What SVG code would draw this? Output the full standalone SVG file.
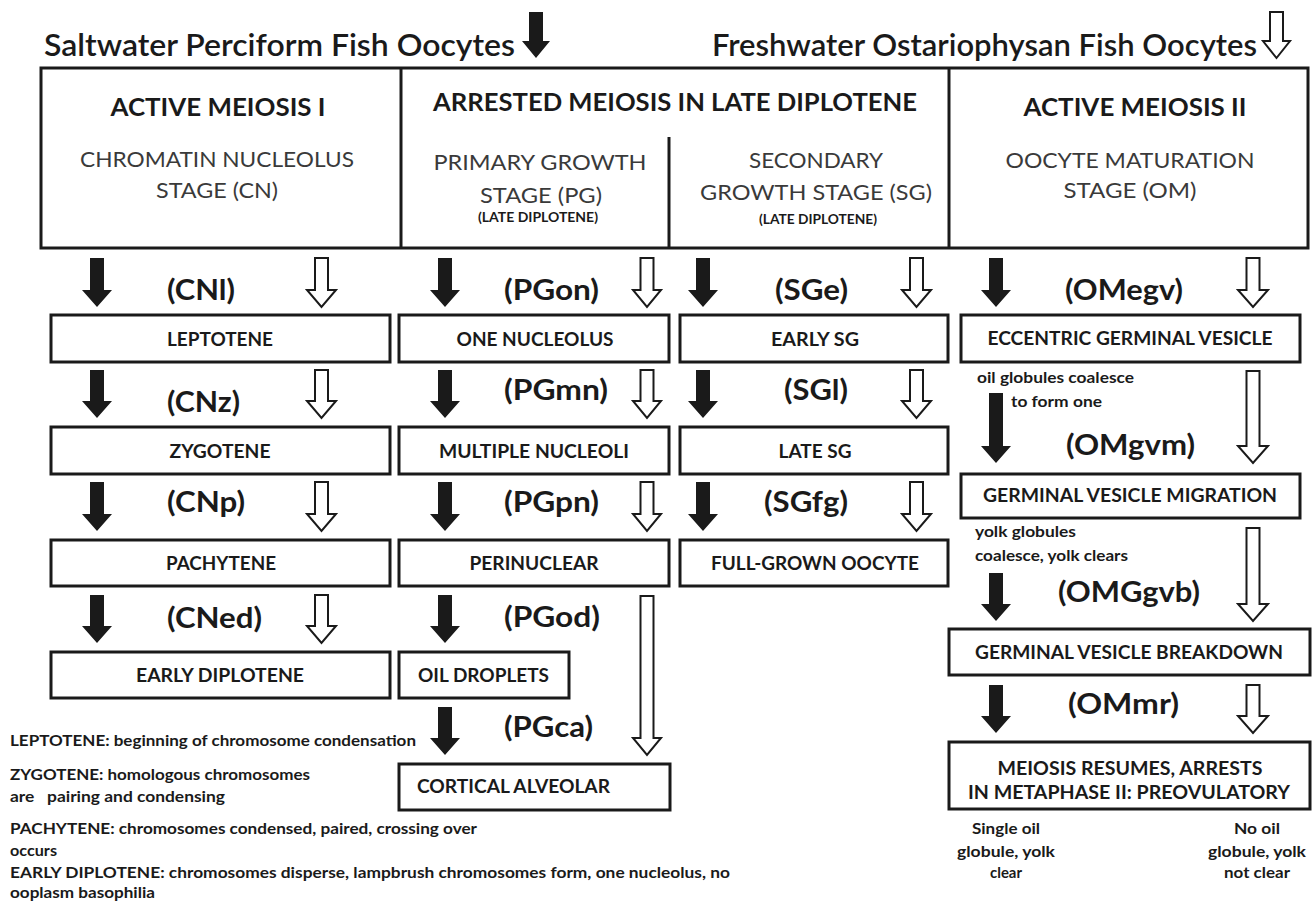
<svg xmlns="http://www.w3.org/2000/svg" width="1314" height="902" viewBox="0 0 1314 902">
<style>
text{font-family:Lato,"Open Sans","Liberation Sans",sans-serif;fill:#1a1a1a}
.title{font-size:31px;font-weight:600}
.head{font-size:24px;font-weight:700;text-anchor:middle}
.sub{font-size:22px;font-weight:400;text-anchor:middle;fill:#3a3a3a}
.tiny{font-size:13px;font-weight:700;text-anchor:middle}
.lbl{font-size:29px;font-weight:700}
.box{fill:#fff;stroke:#1a1a1a;stroke-width:3}
.bt{font-size:18px;font-weight:700;text-anchor:middle}
.bl{font-size:18px;font-weight:700}
.note{font-size:16px;font-weight:700}
.fn{font-size:16px;font-weight:700;white-space:pre}
.ar{fill:#1a1a1a;stroke:none}
.oa{fill:#fff;stroke:#1a1a1a;stroke-width:2;stroke-linejoin:miter}
</style>

<g id="titles">
<text class="title" x="44" y="56" textLength="471" lengthAdjust="spacingAndGlyphs">Saltwater Perciform Fish Oocytes</text>
<text class="title" x="712" y="56" textLength="545" lengthAdjust="spacingAndGlyphs">Freshwater Ostariophysan Fish Oocytes</text>
</g>

<g id="header">
<rect class="box" x="41" y="68" width="1267" height="180"/>
<line x1="401" y1="68" x2="401" y2="248" stroke="#1a1a1a" stroke-width="3"/>
<line x1="949" y1="68" x2="949" y2="248" stroke="#1a1a1a" stroke-width="3"/>
<line x1="669" y1="137" x2="669" y2="248" stroke="#1a1a1a" stroke-width="3"/>
</g>

<g id="col-CN-header">
<text class="head" x="218" y="116" textLength="215" lengthAdjust="spacingAndGlyphs">ACTIVE MEIOSIS I</text>
<text class="sub" x="217" y="167" textLength="274" lengthAdjust="spacingAndGlyphs">CHROMATIN NUCLEOLUS</text>
<text class="sub" x="217" y="198" textLength="122" lengthAdjust="spacingAndGlyphs">STAGE (CN)</text>
</g>
<g id="col-arrested-header">
<text class="head" x="675" y="111" textLength="484" lengthAdjust="spacingAndGlyphs">ARRESTED MEIOSIS IN LATE DIPLOTENE</text>
</g>
<g id="col-PG-header">
<text class="sub" x="540" y="170" textLength="213" lengthAdjust="spacingAndGlyphs">PRIMARY GROWTH</text>
<text class="sub" x="541" y="203" textLength="122" lengthAdjust="spacingAndGlyphs">STAGE (PG)</text>
<text class="tiny" x="538" y="222" textLength="120" lengthAdjust="spacingAndGlyphs">(LATE DIPLOTENE)</text>
</g>
<g id="col-SG-header">
<text class="sub" x="816" y="168" textLength="134" lengthAdjust="spacingAndGlyphs">SECONDARY</text>
<text class="sub" x="816" y="200" textLength="232" lengthAdjust="spacingAndGlyphs">GROWTH STAGE (SG)</text>
<text class="tiny" x="818" y="224" textLength="118" lengthAdjust="spacingAndGlyphs">(LATE DIPLOTENE)</text>
</g>
<g id="col-OM-header">
<text class="head" x="1135" y="116" textLength="223" lengthAdjust="spacingAndGlyphs">ACTIVE MEIOSIS II</text>
<text class="sub" x="1130" y="168" textLength="249" lengthAdjust="spacingAndGlyphs">OOCYTE MATURATION</text>
<text class="sub" x="1130" y="198" textLength="133" lengthAdjust="spacingAndGlyphs">STAGE (OM)</text>
</g>

<g id="connectors">
<path class="ar" d="M529 12H543V41H550L536 58L522 41H529Z"/>
<path class="oa" d="M1270 12H1283V41H1290L1276.5 58L1263 41H1270Z"/>
<path class="ar" d="M90 258H104V290H112L97 307L82 290H90Z"/>
<path class="oa" d="M315 258H328V290H336L321.5 307L307 290H315Z"/>
<path class="ar" d="M90 370H104V401H112L97 418L82 401H90Z"/>
<path class="oa" d="M315 370H328V401H336L321.5 418L307 401H315Z"/>
<path class="ar" d="M90 482H104V514H112L97 531L82 514H90Z"/>
<path class="oa" d="M315 482H328V514H336L321.5 531L307 514H315Z"/>
<path class="ar" d="M90 595H104V626H112L97 643L82 626H90Z"/>
<path class="oa" d="M315 595H328V626H336L321.5 643L307 626H315Z"/>
<path class="ar" d="M438 258H452V290H460L445 307L430 290H438Z"/>
<path class="oa" d="M640.5 258H653.5V290H661L647 307L633 290H640.5Z"/>
<path class="ar" d="M438 370H452V401H460L445 418L430 401H438Z"/>
<path class="oa" d="M640.5 370H653.5V401H661L647 418L633 401H640.5Z"/>
<path class="ar" d="M438 482H452V514H460L445 531L430 514H438Z"/>
<path class="oa" d="M640.5 482H653.5V514H661L647 531L633 514H640.5Z"/>
<path class="ar" d="M438 595H452V626H460L445 643L430 626H438Z"/>
<path class="ar" d="M438 707H452V738H460L445 755L430 738H438Z"/>
<path class="oa" d="M640.5 596H653.5V738H661L647 755L633 738H640.5Z"/>
<path class="ar" d="M696 258H710V290H718L703 307L688 290H696Z"/>
<path class="oa" d="M910 258H923V290H931L916.5 307L902 290H910Z"/>
<path class="ar" d="M696 370H710V401H718L703 418L688 401H696Z"/>
<path class="oa" d="M910 370H923V401H931L916.5 418L902 401H910Z"/>
<path class="ar" d="M696 482H710V514H718L703 531L688 514H696Z"/>
<path class="oa" d="M910 482H923V514H931L916.5 531L902 514H910Z"/>
<path class="ar" d="M989 258H1003V290H1011L996 307L981 290H989Z"/>
<path class="oa" d="M1246.5 258H1259.5V290H1268L1253 307L1238 290H1246.5Z"/>
<path class="ar" d="M989 393H1003V446H1011L996 463L981 446H989Z"/>
<path class="oa" d="M1246.5 371H1259.5V446H1268L1253 463L1238 446H1246.5Z"/>
<path class="ar" d="M989 573H1003V604H1011L996 621L981 604H989Z"/>
<path class="oa" d="M1246.5 528H1259.5V604H1268L1253 621L1238 604H1246.5Z"/>
<path class="ar" d="M989 685H1003V716H1011L996 733L981 716H989Z"/>
<path class="oa" d="M1246.5 685H1259.5V716H1268L1253 733L1238 716H1246.5Z"/>
</g>

<g id="labels">
<text class="lbl" x="167" y="300" textLength="68" lengthAdjust="spacingAndGlyphs">(CNl)</text>
<text class="lbl" x="167" y="412" textLength="73" lengthAdjust="spacingAndGlyphs">(CNz)</text>
<text class="lbl" x="167" y="512" textLength="78" lengthAdjust="spacingAndGlyphs">(CNp)</text>
<text class="lbl" x="167" y="628" textLength="95" lengthAdjust="spacingAndGlyphs">(CNed)</text>
<text class="lbl" x="504" y="300" textLength="95" lengthAdjust="spacingAndGlyphs">(PGon)</text>
<text class="lbl" x="504" y="400" textLength="104" lengthAdjust="spacingAndGlyphs">(PGmn)</text>
<text class="lbl" x="504" y="512" textLength="95" lengthAdjust="spacingAndGlyphs">(PGpn)</text>
<text class="lbl" x="504" y="627" textLength="96" lengthAdjust="spacingAndGlyphs">(PGod)</text>
<text class="lbl" x="504" y="737" textLength="89" lengthAdjust="spacingAndGlyphs">(PGca)</text>
<text class="lbl" x="775" y="300" textLength="73" lengthAdjust="spacingAndGlyphs">(SGe)</text>
<text class="lbl" x="784" y="400" textLength="64" lengthAdjust="spacingAndGlyphs">(SGl)</text>
<text class="lbl" x="764" y="512" textLength="84" lengthAdjust="spacingAndGlyphs">(SGfg)</text>
<text class="lbl" x="1065" y="300" textLength="118" lengthAdjust="spacingAndGlyphs">(OMegv)</text>
<text class="lbl" x="1066" y="455" textLength="129" lengthAdjust="spacingAndGlyphs">(OMgvm)</text>
<text class="lbl" x="1058" y="602" textLength="142" lengthAdjust="spacingAndGlyphs">(OMGgvb)</text>
<text class="lbl" x="1068" y="714" textLength="111" lengthAdjust="spacingAndGlyphs">(OMmr)</text>
</g>

<g id="n-leptotene"><rect class="box" x="51" y="315" width="339" height="47"/><text class="bt" x="220" y="346" textLength="106" lengthAdjust="spacingAndGlyphs">LEPTOTENE</text></g>
<g id="n-zygotene"><rect class="box" x="51" y="427" width="339" height="47"/><text class="bt" x="220" y="458" textLength="101" lengthAdjust="spacingAndGlyphs">ZYGOTENE</text></g>
<g id="n-pachytene"><rect class="box" x="51" y="540" width="339" height="46"/><text class="bt" x="221" y="570" textLength="110" lengthAdjust="spacingAndGlyphs">PACHYTENE</text></g>
<g id="n-early-diplotene"><rect class="box" x="51" y="652" width="339" height="46"/><text class="bt" x="220" y="682" textLength="168" lengthAdjust="spacingAndGlyphs">EARLY DIPLOTENE</text></g>

<g id="n-one-nucleolus"><rect class="box" x="399" y="315" width="270" height="47"/><text class="bt" x="535" y="346" textLength="157" lengthAdjust="spacingAndGlyphs">ONE NUCLEOLUS</text></g>
<g id="n-multiple-nucleoli"><rect class="box" x="399" y="427" width="270" height="47"/><text class="bt" x="534" y="458" textLength="190" lengthAdjust="spacingAndGlyphs">MULTIPLE NUCLEOLI</text></g>
<g id="n-perinuclear"><rect class="box" x="399" y="540" width="270" height="46"/><text class="bt" x="534" y="570" textLength="129" lengthAdjust="spacingAndGlyphs">PERINUCLEAR</text></g>
<g id="n-oil-droplets"><rect class="box" x="399" y="652" width="170" height="46"/><text class="bl" x="418" y="682" textLength="131" lengthAdjust="spacingAndGlyphs">OIL DROPLETS</text></g>
<g id="n-cortical-alveolar"><rect class="box" x="399" y="764" width="271" height="46"/><text class="bl" x="417" y="793" textLength="193" lengthAdjust="spacingAndGlyphs">CORTICAL ALVEOLAR</text></g>

<g id="n-early-sg"><rect class="box" x="680" y="315" width="268" height="47"/><text class="bt" x="815" y="346" textLength="88" lengthAdjust="spacingAndGlyphs">EARLY SG</text></g>
<g id="n-late-sg"><rect class="box" x="680" y="427" width="268" height="47"/><text class="bt" x="815" y="458" textLength="73" lengthAdjust="spacingAndGlyphs">LATE SG</text></g>
<g id="n-full-grown"><rect class="box" x="680" y="540" width="268" height="46"/><text class="bt" x="815" y="570" textLength="208" lengthAdjust="spacingAndGlyphs">FULL-GROWN OOCYTE</text></g>

<g id="n-eccentric-gv"><rect class="box" x="961" y="315" width="339" height="47"/><text class="bt" x="1130" y="345" textLength="285" lengthAdjust="spacingAndGlyphs">ECCENTRIC GERMINAL VESICLE</text></g>
<g id="n-gv-migration"><rect class="box" x="961" y="474" width="339" height="44"/><text class="bt" x="1130" y="502" textLength="294" lengthAdjust="spacingAndGlyphs">GERMINAL VESICLE MIGRATION</text></g>
<g id="n-gv-breakdown"><rect class="box" x="949" y="629" width="361" height="46"/><text class="bt" x="1129" y="659" textLength="308" lengthAdjust="spacingAndGlyphs">GERMINAL VESICLE BREAKDOWN</text></g>
<g id="n-meiosis-resumes"><rect class="box" x="949" y="742" width="361" height="67"/>
<text class="bt" x="1130" y="775" textLength="265" lengthAdjust="spacingAndGlyphs">MEIOSIS RESUMES, ARRESTS</text>
<text class="bt" x="1129" y="799" textLength="322" lengthAdjust="spacingAndGlyphs">IN METAPHASE II: PREOVULATORY</text></g>

<g id="om-notes">
<text class="note" x="977" y="383" textLength="157" lengthAdjust="spacingAndGlyphs">oil globules coalesce</text>
<text class="note" x="1011" y="407" textLength="91" lengthAdjust="spacingAndGlyphs">to form one</text>
<text class="note" x="975" y="537" textLength="101" lengthAdjust="spacingAndGlyphs">yolk globules</text>
<text class="note" x="975" y="561" textLength="153" lengthAdjust="spacingAndGlyphs">coalesce, yolk clears</text>
<text class="note" x="1006" y="834" text-anchor="middle" textLength="68" lengthAdjust="spacingAndGlyphs">Single oil</text>
<text class="note" x="1006" y="857" text-anchor="middle" textLength="98" lengthAdjust="spacingAndGlyphs">globule, yolk</text>
<text class="note" x="1006" y="878" text-anchor="middle" textLength="32" lengthAdjust="spacingAndGlyphs">clear</text>
<text class="note" x="1257" y="834" text-anchor="middle" textLength="46" lengthAdjust="spacingAndGlyphs">No oil</text>
<text class="note" x="1257" y="857" text-anchor="middle" textLength="98" lengthAdjust="spacingAndGlyphs">globule, yolk</text>
<text class="note" x="1257" y="878" text-anchor="middle" textLength="66" lengthAdjust="spacingAndGlyphs">not clear</text>
</g>

<g id="footnotes">
<text class="fn" x="10" y="746" textLength="406" lengthAdjust="spacingAndGlyphs">LEPTOTENE: beginning of chromosome condensation</text>
<text class="fn" x="10" y="780" textLength="300" lengthAdjust="spacingAndGlyphs">ZYGOTENE: homologous chromosomes</text>
<text class="fn" x="10" y="802" textLength="215" lengthAdjust="spacingAndGlyphs">are   pairing and condensing</text>
<text class="fn" x="10" y="834" textLength="467" lengthAdjust="spacingAndGlyphs">PACHYTENE: chromosomes condensed, paired, crossing over</text>
<text class="fn" x="10" y="856" textLength="47" lengthAdjust="spacingAndGlyphs">occurs</text>
<text class="fn" x="10" y="878" textLength="720" lengthAdjust="spacingAndGlyphs">EARLY DIPLOTENE: chromosomes disperse, lampbrush chromosomes form, one nucleolus, no</text>
<text class="fn" x="10" y="898" textLength="145" lengthAdjust="spacingAndGlyphs">ooplasm basophilia</text>
</g>
</svg>
